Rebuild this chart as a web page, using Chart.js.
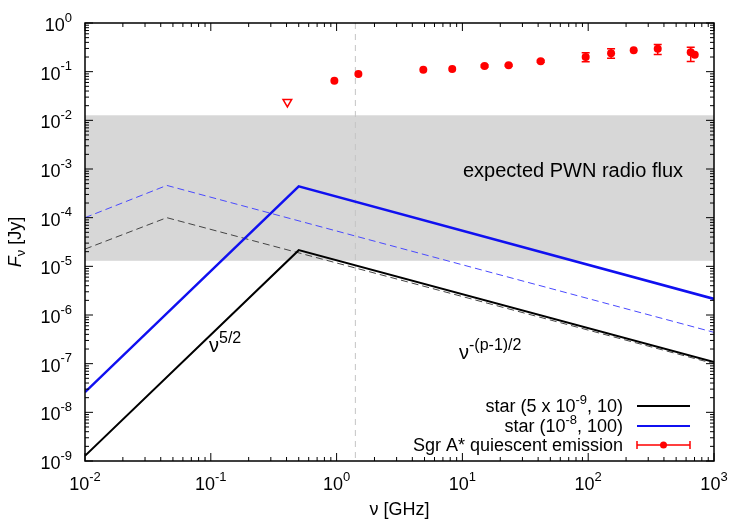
<!DOCTYPE html>
<html>
<head>
<meta charset="utf-8">
<script src="https://cdn.jsdelivr.net/npm/chart.js@4"></script>
<style>
  html, body { margin: 0; padding: 0; background: #fff; }
  #wrap { width: 750px; height: 525px; }
</style>
</head>
<body>
<div id="wrap"><canvas id="sed" width="750" height="525"></canvas></div>
<script>
// axis ranges (decades)
const xDecades = [-2, -1, 0, 1, 2, 3];
const yDecades = [-9, -8, -7, -6, -5, -4, -3, -2, -1, 0];

// star (5 x 10^-9, 10)
const star1Nu = [0.01, 0.5, 1000];
const star1Flux = [1.28e-9, 2.15e-5, 1.08e-7];
const star1bNu = [0.01, 0.0447, 1000];
const star1bFlux = [2.26e-5, 1.0e-4, 1.0e-7];

// star (10^-8, 100)
const star2Nu = [0.01, 0.5, 1000];
const star2Flux = [2.6e-8, 4.4e-4, 2.14e-6];
const star2bNu = [0.01, 0.0447, 1000];
const star2bFlux = [1.0e-4, 4.6e-4, 4.4e-7];

// Sgr A* quiescent emission
const sgrNu = [0.96, 1.49, 4.89, 8.3, 15.0, 23.3, 41.9, 95.5, 152, 230, 357, 653, 703];
const sgrFlux = [0.0647, 0.090, 0.109, 0.114, 0.131, 0.135, 0.164, 0.200, 0.239, 0.275, 0.294, 0.250, 0.222];
const sgrLo = [0.0647, 0.090, 0.109, 0.114, 0.125, 0.129, 0.156, 0.159, 0.189, 0.275, 0.225, 0.161, 0.222];
const sgrHi = [0.0647, 0.090, 0.109, 0.114, 0.137, 0.141, 0.172, 0.244, 0.294, 0.275, 0.361, 0.318, 0.222];
const limitNu = [0.406];
const limitFlux = [0.0239];

// shaded band and marker line
const pwnBand = [1.3e-5, 1.27e-2];
const markerNu = 1.41;

const fontFam = '"Liberation Sans", Arial, Helvetica, sans-serif';

const toXY = (xs, ys) => xs.map((x, i) => ({ x: x, y: ys[i] }));

// draw text with superscripts / subscripts
const drawRich = (ctx, parts, x, y, align, size = 18, supSize = 13, raise = 8) => {
  const fontStr = (p) => (p.italic ? 'italic ' : '') + (p.sup || p.sub ? supSize : size) + 'px ' + fontFam;
  let width = 0;
  parts.forEach(p => { ctx.font = fontStr(p); width += ctx.measureText(p.t).width; });
  let cx = x;
  if (align === 'right') cx = x - width;
  if (align === 'center') cx = x - width / 2;
  parts.forEach(p => {
    ctx.font = fontStr(p);
    const dy = p.sup ? -raise : (p.sub ? 5 : 0);
    ctx.fillText(p.t, cx, y + dy);
    cx += ctx.measureText(p.t).width;
  });
};

const bandPlugin = {
  id: 'band',
  beforeDatasetsDraw(chart) {
    const { ctx, chartArea, scales } = chart;
    const yTop = scales.y.getPixelForValue(pwnBand[1]);
    const yBot = scales.y.getPixelForValue(pwnBand[0]);
    ctx.save();
    ctx.fillStyle = '#d7d7d7';
    ctx.fillRect(chartArea.left, yTop, chartArea.right - chartArea.left, yBot - yTop);
    const xm = scales.x.getPixelForValue(markerNu);
    ctx.strokeStyle = '#c4c4c4';
    ctx.lineWidth = 1;
    ctx.setLineDash([6, 5]);
    ctx.beginPath();
    ctx.moveTo(xm, chartArea.top);
    ctx.lineTo(xm, chartArea.bottom);
    ctx.stroke();
    ctx.restore();
  }
};

const errorBarPlugin = {
  id: 'errorBars',
  afterDatasetsDraw(chart) {
    const { ctx, scales } = chart;
    ctx.save();
    ctx.strokeStyle = '#ff0000';
    ctx.lineWidth = 1.5;
    sgrNu.forEach((nu, i) => {
      if (sgrHi[i] === sgrLo[i]) return;
      const px = scales.x.getPixelForValue(nu);
      const y1 = scales.y.getPixelForValue(sgrHi[i]);
      const y2 = scales.y.getPixelForValue(sgrLo[i]);
      ctx.beginPath();
      ctx.moveTo(px, y1); ctx.lineTo(px, y2);
      ctx.moveTo(px - 4, y1); ctx.lineTo(px + 4, y1);
      ctx.moveTo(px - 4, y2); ctx.lineTo(px + 4, y2);
      ctx.stroke();
    });
    ctx.restore();
  }
};

const framePlugin = {
  id: 'frame',
  afterDraw(chart) {
    const { ctx, chartArea, scales } = chart;
    const { left, right, top, bottom } = chartArea;
    ctx.save();
    ctx.strokeStyle = '#000';
    ctx.lineWidth = 1.5;
    ctx.strokeRect(left, top, right - left, bottom - top);

    // ticks on all four sides
    ctx.lineWidth = 1;
    ctx.beginPath();
    xDecades.forEach(d => {
      for (let k = 1; k <= 9; k++) {
        const v = k * Math.pow(10, d);
        if (v > 1000.0001) break;
        const px = scales.x.getPixelForValue(v);
        const len = k === 1 ? 8 : 4;
        ctx.moveTo(px, bottom); ctx.lineTo(px, bottom - len);
        ctx.moveTo(px, top); ctx.lineTo(px, top + len);
      }
    });
    yDecades.forEach(d => {
      for (let k = 1; k <= 9; k++) {
        const v = k * Math.pow(10, d);
        if (v > 1.0001) break;
        const py = scales.y.getPixelForValue(v);
        const len = k === 1 ? 8 : 4;
        ctx.moveTo(left, py); ctx.lineTo(left + len, py);
        ctx.moveTo(right, py); ctx.lineTo(right - len, py);
      }
    });
    ctx.stroke();

    // tick labels
    ctx.fillStyle = '#000';
    ctx.textBaseline = 'middle';
    yDecades.forEach(d => {
      const py = scales.y.getPixelForValue(Math.pow(10, d));
      drawRich(ctx, [{ t: '10' }, { t: String(d), sup: true }], left - 13, py + 3, 'right');
    });
    xDecades.forEach(d => {
      const px = scales.x.getPixelForValue(Math.pow(10, d));
      drawRich(ctx, [{ t: '10' }, { t: String(d), sup: true }], px, bottom + 24, 'center');
    });

    // axis titles
    drawRich(ctx, [{ t: 'ν [GHz]' }], (left + right) / 2, 510, 'center');
    ctx.save();
    ctx.translate(16, (top + bottom) / 2);
    ctx.rotate(-Math.PI / 2);
    drawRich(ctx, [{ t: 'F', italic: true }, { t: 'ν', sub: true }, { t: ' [Jy]' }], 0, 0, 'center');
    ctx.restore();

    // annotations
    ctx.textBaseline = 'alphabetic';
    drawRich(ctx, [{ t: 'expected PWN radio flux' }], 463, 177, 'left', 20);
    drawRich(ctx, [{ t: 'ν' }, { t: '5/2', sup: true }], 209, 352, 'left', 20, 16, 9);
    drawRich(ctx, [{ t: 'ν' }, { t: '-(p-1)/2', sup: true }], 459, 359, 'left', 20, 16, 9);

    // legend
    const legX = 623;
    const rows = [412, 432, 451];
    drawRich(ctx, [{ t: 'star (5 x 10' }, { t: '-9', sup: true }, { t: ', 10)' }], legX, rows[0], 'right');
    drawRich(ctx, [{ t: 'star (10' }, { t: '-8', sup: true }, { t: ', 100)' }], legX, rows[1], 'right');
    drawRich(ctx, [{ t: 'Sgr A* quiescent emission' }], legX, rows[2], 'right');
    const s0 = 637, s1 = 690;
    ctx.lineWidth = 2;
    ctx.strokeStyle = '#000';
    ctx.beginPath(); ctx.moveTo(s0, rows[0] - 6); ctx.lineTo(s1, rows[0] - 6); ctx.stroke();
    ctx.strokeStyle = '#1010f0';
    ctx.beginPath(); ctx.moveTo(s0, rows[1] - 6); ctx.lineTo(s1, rows[1] - 6); ctx.stroke();
    ctx.strokeStyle = '#ff0000';
    ctx.lineWidth = 1.5;
    const ly = rows[2] - 6;
    ctx.beginPath();
    ctx.moveTo(s0, ly); ctx.lineTo(s1, ly);
    ctx.moveTo(s0, ly - 4); ctx.lineTo(s0, ly + 4);
    ctx.moveTo(s1, ly - 4); ctx.lineTo(s1, ly + 4);
    ctx.stroke();
    ctx.fillStyle = '#ff0000';
    ctx.beginPath(); ctx.arc((s0 + s1) / 2, ly, 3.5, 0, Math.PI * 2); ctx.fill();
    ctx.restore();
  }
};

const lineSet = (data, color, width, dash, order) => ({
  data: data,
  showLine: true,
  borderColor: color,
  borderWidth: width,
  borderDash: dash,
  pointRadius: 0,
  fill: false,
  tension: 0,
  order: order
});

new Chart(document.getElementById('sed'), {
  type: 'scatter',
  data: {
    datasets: [
      {
        data: toXY(sgrNu, sgrFlux),
        pointStyle: 'circle',
        pointRadius: 4,
        backgroundColor: '#ff0000',
        borderColor: '#ff0000',
        borderWidth: 0,
        order: 0
      },
      {
        data: toXY(limitNu, limitFlux),
        pointStyle: 'triangle',
        rotation: 180,
        pointRadius: 5,
        backgroundColor: '#ffffff',
        borderColor: '#ff0000',
        borderWidth: 1.5,
        order: 0
      },
      lineSet(toXY(star2Nu, star2Flux), '#1010f0', 2.5, [], 1),
      lineSet(toXY(star1Nu, star1Flux), '#000000', 2, [], 2),
      lineSet(toXY(star2bNu, star2bFlux), '#4a4aff', 1, [7, 4], 3),
      lineSet(toXY(star1bNu, star1bFlux), '#444444', 1, [7, 4], 4)
    ]
  },
  options: {
    responsive: false,
    animation: false,
    layout: { padding: { left: 85, top: 23, right: 36, bottom: 64 } },
    plugins: { legend: { display: false }, tooltip: { enabled: false } },
    scales: {
      x: { type: 'logarithmic', min: 0.01, max: 1000, display: false },
      y: { type: 'logarithmic', min: 1e-9, max: 1, display: false }
    }
  },
  plugins: [bandPlugin, errorBarPlugin, framePlugin]
});
</script>
</body>
</html>
